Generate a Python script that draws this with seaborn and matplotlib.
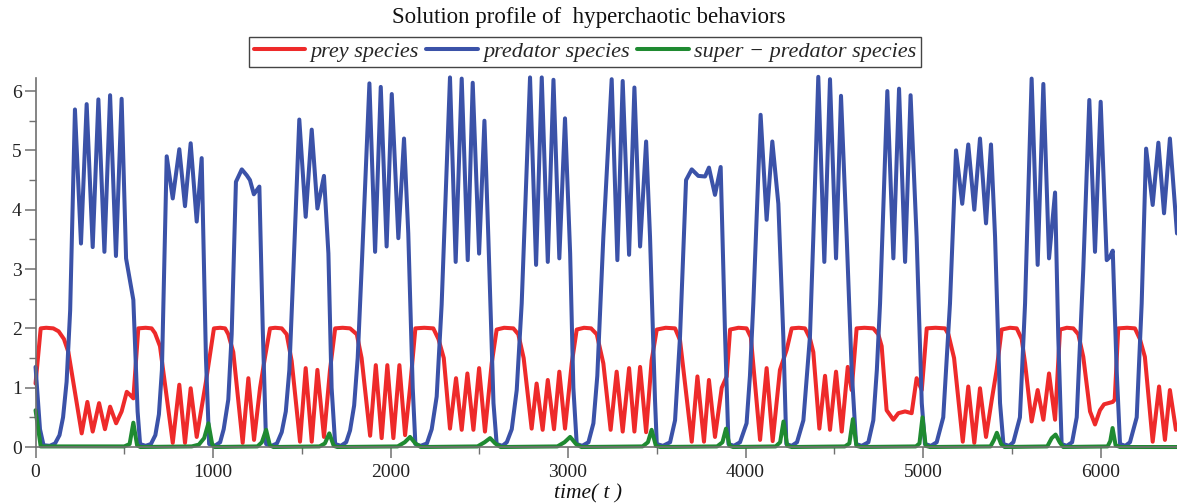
import pandas as pd
import seaborn as sns
import matplotlib.pyplot as plt
from matplotlib.ticker import MultipleLocator

# prey species (red)
prey_t = [0, 29, 60, 100, 130, 160, 185, 260, 292, 322, 358, 391, 420, 454, 485, 514, 532, 551,
          579, 620, 654, 673, 701, 773, 810, 842, 874, 908, 960, 1005, 1040, 1068, 1086, 1114,
          1167, 1199, 1231, 1265, 1293, 1321, 1350, 1387, 1415, 1443, 1490, 1522, 1556, 1588,
          1625, 1659, 1688, 1730, 1772, 1810, 1837, 1885, 1917, 1950, 1982, 2016, 2050, 2082,
          2110, 2140, 2190, 2241, 2270, 2300, 2335, 2369, 2401, 2433, 2467, 2499, 2532, 2570,
          2598, 2640, 2692, 2720, 2750, 2795, 2823, 2857, 2886, 2921, 2951, 2983, 3021, 3049,
          3090, 3130, 3162, 3199, 3240, 3274, 3308, 3344, 3374, 3406, 3440, 3471, 3500, 3550,
          3603, 3631, 3697, 3729, 3766, 3794, 3828, 3866, 3894, 3913, 3960, 4006, 4030, 4082,
          4119, 4153, 4194, 4232, 4260, 4300, 4335, 4363, 4382, 4416, 4448, 4476, 4510, 4542,
          4576, 4598, 4626, 4670, 4720, 4748, 4767, 4795, 4833, 4861, 4899, 4936, 4964, 4993,
          5021, 5070, 5124, 5143, 5175, 5224, 5255, 5289, 5321, 5355, 5387, 5415, 5443, 5490,
          5528, 5556, 5575, 5612, 5646, 5678, 5710, 5744, 5772, 5810, 5847, 5875, 5903, 5941,
          5969, 5997, 6020, 6069, 6080, 6100, 6150, 6194, 6222, 6250, 6294, 6330, 6363, 6391,
          6425]
prey_v = [1.07, 2.0, 2.01, 2.0, 1.95, 1.82, 1.6, 0.23, 0.76, 0.26, 0.74, 0.3, 0.68, 0.4, 0.6,
          0.93, 0.88, 0.82, 2.0, 2.01, 2.0, 1.92, 1.7, 0.07, 1.05, 0.07, 0.99, 0.17, 1.1, 2.0,
          2.01, 2.0, 1.9, 1.6, 0.07, 1.16, 0.12, 1.0, 1.52, 2.0, 2.01, 2.0, 1.9, 1.45, 0.09,
          1.33, 0.09, 1.3, 0.17, 1.3, 2.0, 2.01, 2.0, 1.9, 1.5, 0.19, 1.38, 0.15, 1.38, 0.15,
          1.38, 0.2, 1.0, 2.0, 2.01, 2.0, 1.82, 1.5, 0.31, 1.16, 0.29, 1.24, 0.29, 1.33, 0.26,
          1.41, 1.98, 2.01, 2.0, 1.9, 1.5, 0.31, 1.07, 0.29, 1.13, 0.3, 1.27, 0.31, 1.41, 1.98,
          2.01, 2.0, 1.9, 1.41, 0.29, 1.27, 0.26, 1.33, 0.26, 1.35, 0.25, 1.46, 1.98, 2.01,
          2.0, 1.8, 0.09, 1.19, 0.09, 1.13, 0.17, 1.0, 1.19, 1.98, 2.01, 2.0, 1.85, 0.12,
          1.33, 0.1, 1.3, 1.64, 2.0, 2.01, 2.0, 1.83, 1.6, 0.31, 1.2, 0.29, 1.27, 0.26,
          1.35, 0.96, 2.0, 2.01, 2.0, 1.9, 1.7, 0.62, 0.46, 0.57, 0.6, 0.57, 1.16, 0.96,
          2.0, 2.01, 2.0, 1.9, 1.5, 0.09, 1.02, 0.07, 0.99, 0.17, 0.79, 1.3, 1.98, 2.01,
          2.0, 1.82, 1.41, 0.43, 0.96, 0.46, 1.24, 0.46, 1.98, 2.01, 2.0, 1.9, 1.52, 0.6,
          0.38, 0.62, 0.72, 0.76, 0.8, 2.0, 2.01, 2.0, 1.82, 1.52, 0.09, 1.02, 0.12, 0.96,
          0.29]

# predator species (blue)
pred_t = [0, 25, 45, 80, 110, 135, 155, 175, 195, 222, 256, 288, 322, 354, 388, 420, 453, 485,
          510, 551, 575, 589, 620, 650, 675, 695, 712, 739, 773, 810, 842, 874, 908, 936, 960,
          978, 1010, 1040, 1060, 1086, 1105, 1129, 1162, 1190, 1208, 1230, 1261, 1280, 1299,
          1330, 1360, 1387, 1410, 1430, 1453, 1486, 1522, 1556, 1588, 1625, 1650, 1668, 1688,
          1720, 1750, 1772, 1795, 1815, 1840, 1881, 1913, 1945, 1978, 2007, 2044, 2076, 2100,
          2125, 2140, 2170, 2205, 2232, 2260, 2288, 2335, 2367, 2401, 2435, 2463, 2499, 2529,
          2551, 2580, 2598, 2630, 2655, 2683, 2711, 2739, 2786, 2820, 2852, 2886, 2918, 2951,
          2983, 3012, 3030, 3049, 3080, 3115, 3143, 3165, 3199, 3246, 3278, 3308, 3344, 3374,
          3406, 3440, 3462, 3490, 3500, 3535, 3575, 3603, 3631, 3665, 3697, 3734, 3772, 3794,
          3828, 3860, 3885, 3904, 3935, 3969, 4006, 4025, 4044, 4085, 4119, 4151, 4185, 4213,
          4230, 4260, 4290, 4326, 4363, 4382, 4410, 4444, 4476, 4510, 4538, 4570, 4598, 4623,
          4655, 4692, 4720, 4740, 4758, 4799, 4833, 4865, 4899, 4930, 4964, 4993, 5011, 5045,
          5077, 5114, 5152, 5186, 5221, 5255, 5289, 5321, 5355, 5383, 5406, 5434, 5453, 5485,
          5509, 5546, 5575, 5612, 5646, 5678, 5710, 5744, 5762, 5781, 5810, 5840, 5866, 5903,
          5937, 5969, 6001, 6035, 6052, 6069, 6091, 6110, 6140, 6166, 6204, 6232, 6257, 6294,
          6326, 6358, 6391, 6431]
pred_v = [1.35, 0.3, 0.03, 0.02, 0.06, 0.2, 0.5, 1.1, 2.3, 5.69, 3.43, 5.78, 3.37, 5.86, 3.29,
          5.93, 3.22, 5.87, 3.18, 2.48, 0.6, 0.05, 0.02, 0.05, 0.2, 0.55, 1.3, 4.9, 4.19, 5.02,
          4.06, 5.12, 3.8, 4.87, 1.5, 0.05, 0.02, 0.08, 0.3, 0.8, 1.9, 4.47, 4.68, 4.58, 4.5,
          4.26, 4.39, 2.0, 0.05, 0.02, 0.06, 0.25, 0.6, 1.3, 3.0, 5.52, 3.88, 5.35, 4.02, 4.57,
          3.26, 1.0, 0.05, 0.02, 0.08, 0.28, 0.7, 1.5, 3.2, 6.13, 3.29, 6.07, 3.38, 5.95, 3.52,
          5.2, 3.6, 1.0, 0.05, 0.02, 0.06, 0.3, 0.85, 2.4, 6.23, 3.12, 6.21, 3.15, 6.14, 3.26,
          5.5, 3.54, 0.74, 0.05, 0.02, 0.08, 0.3, 0.96, 2.42, 6.23, 3.07, 6.23, 3.12, 6.19,
          3.18, 5.54, 3.26, 1.0, 0.05, 0.02, 0.08, 0.4, 1.2, 3.54, 6.2, 3.15, 6.17, 3.24, 6.06,
          3.38, 5.15, 3.54, 0.8, 0.05, 0.02, 0.08, 0.45, 1.86, 4.5, 4.68, 4.57, 4.56, 4.71,
          4.25, 4.72, 1.86, 0.05, 0.02, 0.08, 0.4, 1.2, 2.42, 5.6, 3.83, 5.15, 4.1, 1.86,
          0.05, 0.02, 0.08, 0.45, 1.86, 3.54, 6.24, 3.12, 6.2, 3.18, 5.92, 3.54, 1.3, 0.05,
          0.02, 0.08, 0.45, 1.3, 2.42, 6.0, 3.18, 6.04, 3.12, 5.93, 3.54, 0.74, 0.05, 0.02,
          0.08, 0.5, 2.42, 5.0, 4.1, 5.1, 4.0, 5.2, 3.77, 5.1, 3.54, 0.74, 0.05, 0.02,
          0.08, 0.5, 2.42, 6.21, 3.07, 6.12, 3.18, 4.29, 1.86, 0.05, 0.02, 0.08, 0.5, 3.0,
          5.85, 3.29, 5.82, 3.15, 3.2, 3.31, 1.3, 0.05, 0.02, 0.08, 0.5, 2.42, 5.03, 4.08,
          5.13, 3.94, 5.2, 3.6]

# super-predator species (green)
sup_t = [0, 29, 500, 530, 551, 572, 590, 880, 920, 950, 974, 995, 1010, 1250, 1275, 1299,
         1320, 1340, 1600, 1630, 1655, 1680, 1700, 2040, 2080, 2110, 2140, 2170, 2490, 2530,
         2561, 2590, 2620, 2940, 2980, 3012, 3045, 3075, 3420, 3450, 3471, 3495, 3520, 3840,
         3870, 3890, 3910, 3930, 4170, 4195, 4214, 4235, 4260, 4560, 4585, 4605, 4625, 4650,
         4960, 4980, 4997, 5015, 5040, 5380, 5400, 5416, 5440, 5460, 5700, 5725, 5747, 5770,
         5790, 6040, 6055, 6068, 6085, 6110, 6431]
sup_v = [0.62, 0.01, 0.01, 0.05, 0.41, 0.03, 0.0, 0.01, 0.04, 0.15, 0.4, 0.05, 0.0, 0.01, 0.08,
         0.29, 0.03, 0.0, 0.01, 0.06, 0.23, 0.02, 0.0, 0.01, 0.08, 0.17, 0.06, 0.0, 0.01, 0.08,
         0.15, 0.06, 0.0, 0.01, 0.08, 0.17, 0.05, 0.0, 0.01, 0.08, 0.29, 0.02, 0.0, 0.01, 0.08,
         0.31, 0.02, 0.0, 0.01, 0.08, 0.43, 0.02, 0.0, 0.01, 0.06, 0.47, 0.02, 0.0, 0.01, 0.06,
         0.5, 0.02, 0.0, 0.01, 0.12, 0.24, 0.05, 0.0, 0.01, 0.15, 0.21, 0.08, 0.0, 0.01, 0.1,
         0.32, 0.03, 0.0, 0.0]

labels = ['prey species', 'predator species', 'super \u2212 predator species']
colors = ['#ee2a2a', '#3b52a8', '#1f8a31']

sns.set_style('ticks')
plt.rcParams['font.family'] = ['Liberation Serif', 'DejaVu Serif']

fig = plt.figure(figsize=(11.77, 5.03), dpi=100)
ax = fig.add_axes([0.0302, 0.1113, 0.9698, 0.7336])

for t, v, lab, col in zip([prey_t, pred_t, sup_t], [prey_v, pred_v, sup_v], labels, colors):
    sns.lineplot(x=t, y=v, ax=ax, color=col, linewidth=2.9, label=lab,
                 estimator=None, sort=False, clip_on=False)

ax.set_xlim(0, 6431)
ax.set_ylim(0, 6.22)
ax.xaxis.set_major_locator(MultipleLocator(1000))
ax.xaxis.set_minor_locator(MultipleLocator(500))
ax.yaxis.set_major_locator(MultipleLocator(1))
ax.yaxis.set_minor_locator(MultipleLocator(0.5))
sns.despine(ax=ax)
for s in ['left', 'bottom']:
    ax.spines[s].set_color('#707070')
    ax.spines[s].set_linewidth(1.2)
ax.tick_params(which='major', length=8, width=1.1, color='#707070', labelsize=14,
               labelcolor='#222222')
ax.tick_params(which='minor', length=5, width=1.0, color='#707070')
ax.tick_params(axis='x', pad=4)
ax.tick_params(axis='y', pad=2)
ax.set_xlabel('')
ax.set_ylabel('')

ax.legend(loc='center', bbox_to_anchor=(585 / 1177, 1 - 52 / 503), bbox_transform=fig.transFigure,
          ncol=3, prop={'style': 'italic', 'size': 16}, handlelength=2.3, handletextpad=0.25,
          columnspacing=0.35, borderpad=0.2, fancybox=False, framealpha=1,
          edgecolor='#444444')

fig.text(0.5, 1 - 18 / 503, 'Solution profile of  hyperchaotic behaviors', ha='center',
         va='center', fontsize=16.5, color='#111111')
fig.text(0.5, 0.0, 'time( t )', ha='center', va='bottom', fontsize=15.5, style='italic',
         color='#111111')

fig.savefig('out.png', dpi=100)
